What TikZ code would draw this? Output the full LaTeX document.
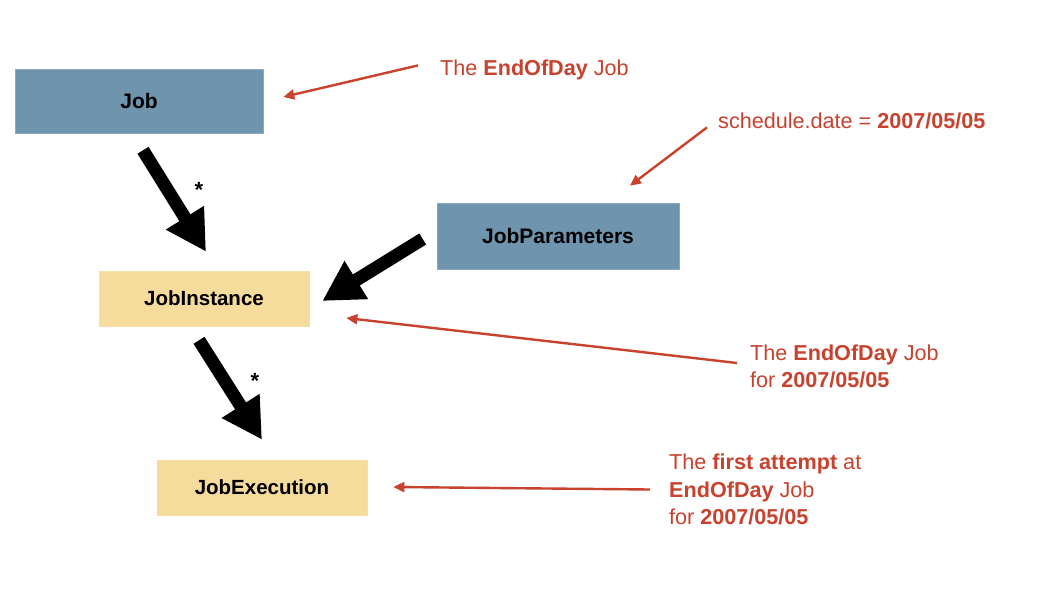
\documentclass[tikz,border=0pt]{standalone}
\usepackage{fontspec}
\setmainfont{Liberation Sans}
\usetikzlibrary{arrows.meta,calc}
\definecolor{boxblue}{RGB}{110,148,174}
\definecolor{boxyellow}{RGB}{245,220,156}
\definecolor{notered}{RGB}{201,66,46}
\tikzset{
  bluebox/.style={fill=boxblue, draw=boxblue!80!white, line width=0.6pt, inner sep=0pt, font=\fontsize{21}{24}\selectfont\bfseries},
  yellowbox/.style={fill=boxyellow, draw=boxyellow!90!white, line width=0.6pt, inner sep=0pt, font=\fontsize{20.5}{24}\selectfont\bfseries},
  note/.style={text=notered, inner sep=0pt, align=left, font=\fontsize{21.6}{27.5}\selectfont},
  bigarrow/.style={line width=13pt, -{Triangle[length=40pt,width=42pt]}},
  redarrow/.style={draw=notered, line width=2.4pt, -{Triangle[length=11pt,width=10pt]}},
  star/.style={inner sep=0pt, font=\fontsize{22}{24}\selectfont\bfseries}
}
\begin{document}
\begin{tikzpicture}[x=1pt,y=-1pt]
\useasboundingbox[fill=white] (0,0) rectangle (1040,602);
% boxes
\node[bluebox, minimum width=248pt, minimum height=64pt] (job) at (139,101) {Job};
\node[yellowbox, minimum width=210pt, minimum height=55pt] (ji) at (204,298.5) {JobInstance};
\node[yellowbox, minimum width=210pt, minimum height=55pt] (je) at (262,487.5) {JobExecution};
\node[bluebox, minimum width=242pt, minimum height=66pt] (jp) at (558,236) {JobParameters};
% notes
\node[note, anchor=base west] (t1) at (440,75) {The \textbf{EndOfDay} Job};
\node[note, anchor=base west] (t2) at (718,128) {schedule.date = \textbf{2007/05/05}};
\node[note, anchor=west] (t3) at (750,366.5) {The \textbf{EndOfDay} Job\\for \textbf{2007/05/05}};
\node[note, anchor=west] (t4) at (669,489.5) {The \textbf{first attempt} at\\\textbf{EndOfDay} Job\\for \textbf{2007/05/05}};
% black arrows
\draw[bigarrow] ($(job.south)+(4,17)$) -- ($(ji.north)+(2,-19)$);
\draw[bigarrow] ($(jp.west)+(-14,3)$) -- ($(ji.east)+(13,2.5)$);
\draw[bigarrow] ($(ji.south)+(-5,14)$) -- ($(je.north)+(0,-20)$);
\node[star] (s1) at (199,190) {*};
\node[star] (s2) at (255,381) {*};
% red arrows
\draw[redarrow] ($(t1.west)+(-22,-4)$) -- ($(job.east)+(20,-4)$);
\draw[redarrow] ($(t2.west)+(-11,7)$) -- ($(jp.north)+(72,-17)$);
\draw[redarrow] ($(t3.west)+(-13,-3.5)$) -- ($(ji.east)+(37,19.5)$);
\draw[redarrow] ($(t4.west)+(-19,0)$) -- ($(je.east)+(26,-0.5)$);
\end{tikzpicture}
\end{document}
